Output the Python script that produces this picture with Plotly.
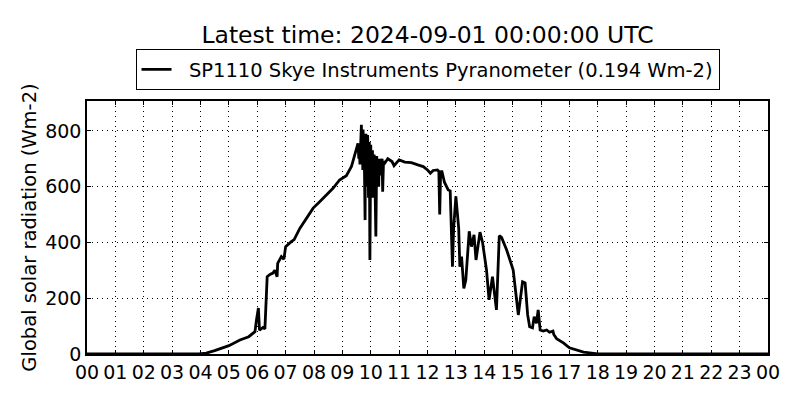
import plotly.graph_objects as go

hours = [0, 3.95, 4.2, 4.5, 5.0, 5.39, 5.7, 5.92, 5.97, 6.04, 6.08, 6.2, 6.27, 6.35, 6.45, 6.55, 6.62, 6.7, 6.72,
         6.85, 6.94, 7.0, 7.2, 7.3, 7.5, 7.74, 7.97, 8.2, 8.44, 8.67, 8.9, 9.14, 9.32, 9.44, 9.55, 9.58, 9.6,
         9.62, 9.64, 9.67, 9.69, 9.7, 9.72, 9.73, 9.75, 9.76, 9.78, 9.8, 9.81, 9.83, 9.84, 9.86, 9.88, 9.89,
         9.91, 9.92, 9.94, 9.95, 9.97, 9.98, 10.0, 10.02, 10.03, 10.05, 10.06, 10.08, 10.09, 10.11, 10.12,
         10.14, 10.15, 10.18, 10.21, 10.23, 10.25, 10.28, 10.3, 10.33, 10.35, 10.4, 10.42, 10.45, 10.5, 10.6,
         10.68, 10.75, 10.82, 10.9,
         11.0, 11.2, 11.43, 11.66, 11.85, 12.0, 12.1, 12.2, 12.35, 12.4, 12.43, 12.46, 12.5, 12.6, 12.73, 12.8,
         12.88, 12.92, 13.0, 13.1, 13.14, 13.2, 13.28, 13.35, 13.47, 13.55, 13.64, 13.71, 13.85, 13.94, 14.08,
         14.17, 14.29, 14.43, 14.53, 14.61, 14.79, 15.02, 15.12, 15.2, 15.35, 15.44, 15.53, 15.6, 15.7, 15.76,
         15.84, 15.9, 15.97, 16.08, 16.2, 16.3, 16.42, 16.45, 16.55, 16.8, 17.0, 17.5, 18.0, 24.0]
radiation = [0, 0, 3, 12, 30, 50, 62, 80, 120, 165, 85, 95, 90, 277, 285, 290, 300, 277, 325,
             349, 340, 385, 403, 410, 450, 487, 523, 546, 570, 594, 624, 639, 672, 720, 755, 700, 730,
             680, 790, 822, 700, 770, 660, 805, 690, 740, 650, 480, 700, 790, 640, 750, 600, 785,
             680, 560, 700, 760, 337, 690, 750, 600, 660, 560, 730, 620, 690, 580, 715,
             560, 610, 421, 710, 620, 680, 600, 700, 640, 675, 700, 582, 690, 685, 700,
             696, 690, 675, 685,
             696, 688, 686, 678, 672, 660, 648, 658, 660, 655, 500, 640, 658, 615, 588, 585,
             313, 450, 565, 450, 313, 349, 235, 265, 440, 385, 427, 337, 437, 400, 301,
             194, 277, 158, 424, 418, 373, 301, 218, 140, 259, 255, 140, 98, 94, 134,
             110, 158, 86, 82, 86, 78, 82, 70, 55, 39, 22, 7, 0, 0]

tick_hours = list(range(25))
tick_labels = ["%02d" % (h % 24) for h in tick_hours]
y_ticks = [0, 200, 400, 600, 800]

series_name = "SP1110 Skye Instruments Pyranometer (0.194 Wm-2)"
title_text = "Latest time: 2024-09-01 00:00:00 UTC"

fig = go.Figure()
fig.add_trace(go.Scatter(x=hours, y=radiation, mode="lines", name="\u00a0\u00a0" + series_name,
                         line=dict(color="black", width=2.8)))

font = "DejaVu Sans"
grid_dash = "1px,4px"
# page body adds an 8px offset, compensated in the margins
fig.update_layout(
    width=800, height=400,
    margin=dict(l=79, r=40, t=93, b=54, autoexpand=False),
    paper_bgcolor="white", plot_bgcolor="white",
    font=dict(family=font, size=19, color="black"),
    title=dict(text=title_text, x=(427.5 - 8) / 800, xanchor="center", y=1 - 27 / 400, yanchor="middle",
               font=dict(family=font, size=23.5, color="black")),
    showlegend=True,
    legend=dict(x=0.5, xanchor="center", y=1.043, yanchor="bottom", orientation="h",
                bordercolor="black", borderwidth=1, bgcolor="white",
                font=dict(family=font, size=19.5, color="black")),
    xaxis=dict(range=[0, 24], tickvals=tick_hours, ticktext=tick_labels, automargin=False,
               showline=True, linecolor="black", linewidth=1.5, mirror="ticks",
               ticks="inside", ticklen=4, tickcolor="black",
               showgrid=True, gridcolor="black", griddash=grid_dash, gridwidth=1,
               zeroline=False, tickfont=dict(size=19)),
    yaxis=dict(range=[0, 907], tickvals=y_ticks, automargin=False,
               showline=True, linecolor="black", linewidth=1.5, mirror="ticks",
               ticks="inside", ticklen=4, tickcolor="black",
               showgrid=True, gridcolor="black", griddash=grid_dash, gridwidth=1,
               zeroline=False, tickfont=dict(size=19),
               title=dict(text="Global solar radiation (Wm-2)", font=dict(size=19.5), standoff=3)),
)

fig.write_html("out.html")
